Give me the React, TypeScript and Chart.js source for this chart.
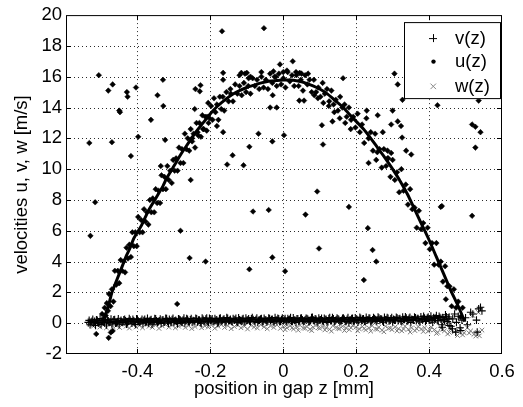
import React, { useEffect, useRef } from "react";
import { Chart, registerables } from "chart.js";

Chart.register(...registerables);

const FONT = "Arial, 'Liberation Sans', Helvetica, sans-serif";
const FS = 18.5;

const xTicks = [-0.4, -0.2, 0, 0.2, 0.4, 0.6];
const yTicks = [-2, 0, 2, 4, 6, 8, 10, 12, 14, 16, 18, 20];
const seriesLabels = ["v(z)", "u(z)", "w(z)"];
const xTitle = "position in gap z [mm]";
const yTitle = "velocities u, v, w [m/s]";

// fitted profile (solid line)
const fitCurve: [number, number][] = [
  [-0.492, 0.3], [-0.48, 1.1], [-0.47, 2.0], [-0.46, 2.6], [-0.45, 3.2], [-0.44, 3.8], [-0.43, 4.4],
  [-0.42, 4.9], [-0.41, 5.5], [-0.4, 5.9], [-0.39, 6.3], [-0.38, 6.8], [-0.37, 7.3], [-0.36, 7.7],
  [-0.35, 8.1], [-0.34, 8.5], [-0.33, 8.9], [-0.32, 9.4], [-0.31, 9.8], [-0.3, 10.2], [-0.28, 11.0],
  [-0.26, 11.7], [-0.24, 12.4], [-0.22, 13.0], [-0.2, 13.6], [-0.18, 14.1], [-0.16, 14.5], [-0.14, 14.85],
  [-0.12, 15.1], [-0.1, 15.3], [-0.08, 15.45], [-0.06, 15.6], [-0.04, 15.7], [-0.02, 15.75], [0, 15.78],
  [0.02, 15.78], [0.04, 15.72], [0.06, 15.6], [0.08, 15.42], [0.1, 15.2], [0.12, 14.9], [0.14, 14.5],
  [0.16, 14.1], [0.18, 13.6], [0.2, 13.1], [0.22, 12.6], [0.24, 12.0], [0.26, 11.35], [0.28, 10.7],
  [0.3, 10.0], [0.32, 9.25], [0.34, 8.4], [0.36, 7.4], [0.38, 6.4], [0.4, 5.4], [0.42, 4.3], [0.44, 3.2],
  [0.46, 2.1], [0.48, 1.1], [0.498, 0.1],
];

// u(z) measured points close to the profile
const uNear: [number, number][] = [
  [-0.497, 0.6], [-0.493, 0.2], [-0.49, 1.0], [-0.487, 0.5], [-0.484, 1.3], [-0.481, 0.8], [-0.478, 1.9],
  [-0.474, 1.1], [-0.47, 2.2], [-0.466, 1.4], [-0.462, 3.4], [-0.458, 2.5], [-0.454, 3.4], [-0.45, 2.6],
  [-0.446, 4.1], [-0.442, 3.4], [-0.438, 4.0], [-0.434, 3.3], [-0.43, 4.9], [-0.426, 4.2], [-0.422, 5.1],
  [-0.418, 4.3], [-0.414, 5.9], [-0.41, 5.0], [-0.406, 5.9], [-0.402, 5.0], [-0.398, 6.9], [-0.394, 5.9],
  [-0.39, 6.7], [-0.386, 5.9], [-0.382, 7.4], [-0.378, 6.6], [-0.374, 7.2], [-0.37, 6.4], [-0.366, 8.0],
  [-0.362, 7.2], [-0.358, 8.1], [-0.354, 7.2], [-0.35, 8.7], [-0.346, 7.8], [-0.342, 8.6], [-0.338, 7.8],
  [-0.334, 9.6], [-0.33, 8.7], [-0.326, 9.5], [-0.322, 8.7], [-0.318, 10.2], [-0.314, 9.3], [-0.31, 9.9],
  [-0.306, 9.1], [-0.302, 10.6], [-0.298, 9.9], [-0.294, 10.7], [-0.29, 9.9], [-0.286, 11.4], [-0.282, 10.4],
  [-0.278, 11.3], [-0.274, 10.4], [-0.27, 12.3], [-0.266, 11.3], [-0.262, 12.0], [-0.258, 11.2], [-0.254, 12.6],
  [-0.25, 11.8], [-0.246, 12.3], [-0.242, 11.4], [-0.238, 13.0], [-0.234, 12.2], [-0.23, 13.0], [-0.226, 12.1],
  [-0.222, 13.5], [-0.218, 12.6], [-0.214, 13.4], [-0.21, 12.5], [-0.206, 14.3], [-0.202, 13.3], [-0.198, 14.1],
  [-0.194, 13.2], [-0.19, 14.6], [-0.186, 13.7], [-0.182, 14.2], [-0.178, 13.2], [-0.174, 14.7], [-0.17, 13.9],
  [-0.166, 14.7], [-0.162, 13.8], [-0.156, 15.0], [-0.15, 14.4], [-0.144, 14.9], [-0.138, 14.4], [-0.132, 15.5],
  [-0.126, 14.9], [-0.12, 15.4], [-0.114, 14.8], [-0.108, 15.6], [-0.102, 15.0], [-0.096, 15.4], [-0.09, 14.9],
  [-0.084, 15.9], [-0.078, 15.4], [-0.072, 15.8], [-0.066, 15.2], [-0.06, 16.0], [-0.054, 15.3], [-0.048, 15.8],
  [-0.042, 15.2], [-0.036, 16.2], [-0.03, 15.6], [-0.024, 16.0], [-0.018, 15.4], [-0.012, 16.2], [-0.006, 15.5],
  [0.0, 15.9], [0.006, 15.3], [0.012, 16.3], [0.018, 15.7], [0.024, 16.1], [0.03, 15.4], [0.036, 16.1],
  [0.042, 15.4], [0.048, 15.8], [0.054, 15.1], [0.06, 16.1], [0.066, 15.5], [0.072, 15.8], [0.078, 15.0],
  [0.084, 15.8], [0.09, 15.0], [0.096, 15.3], [0.102, 14.7], [0.108, 15.6], [0.114, 14.9], [0.12, 15.2],
  [0.126, 14.4], [0.132, 15.1], [0.138, 14.2], [0.144, 14.5], [0.15, 13.8], [0.156, 14.7], [0.162, 14.0],
  [0.168, 14.2], [0.174, 13.4], [0.18, 14.0], [0.186, 13.2], [0.192, 13.4], [0.198, 12.7], [0.204, 13.6],
  [0.21, 12.4], [0.216, 12.9], [0.222, 11.7], [0.228, 13.3], [0.234, 12.0], [0.24, 12.4], [0.246, 11.2],
  [0.252, 12.3], [0.258, 11.1], [0.264, 11.3], [0.27, 10.1], [0.276, 11.3], [0.282, 10.2], [0.288, 10.7],
  [0.294, 9.5], [0.3, 10.6], [0.306, 9.3], [0.312, 9.8], [0.318, 8.5], [0.324, 10.0], [0.33, 8.6],
  [0.336, 9.0], [0.342, 7.7], [0.348, 8.7], [0.354, 7.4], [0.36, 7.5], [0.366, 6.2], [0.372, 7.3],
  [0.378, 6.1], [0.384, 6.5], [0.39, 5.2], [0.396, 6.2], [0.402, 4.8], [0.408, 5.2], [0.414, 3.8],
  [0.42, 5.2], [0.426, 3.8], [0.432, 4.0], [0.438, 2.7], [0.444, 3.7], [0.45, 2.4], [0.456, 2.4],
  [0.462, 1.1], [0.468, 2.2], [0.474, 1.0], [0.48, 1.4], [0.486, 0.4], [0.492, 1.0],
  [0.085, 14.8], [0.095, 14.6], [0.11, 14.3], [0.125, 14.1], [0.14, 13.7], [0.155, 13.3], [0.17, 13.0],
  [0.185, 12.6], [-0.25, 12.0], [-0.235, 12.4], [-0.22, 12.6], [-0.205, 13.0],
  [-0.12, 16.1], [-0.105, 16.2], [-0.09, 16.0], [-0.06, 16.3], [0.0, 16.3], [0.01, 16.4], [0.035, 16.3],
  [0.05, 16.2],
];

// u(z) scattered points away from the profile
const uScatter: [number, number][] = [
  [-0.506, 16.1], [-0.48, 15.1], [-0.468, 15.5], [-0.429, 15.0], [-0.427, 14.7], [-0.404, 15.3],
  [-0.45, 13.8], [-0.448, 13.7], [-0.532, 11.7], [-0.47, 11.75], [-0.418, 10.85], [-0.398, 12.1],
  [-0.363, 13.2], [-0.516, 7.85], [-0.345, 14.8], [-0.33, 15.8], [-0.329, 14.1], [-0.324, 11.9],
  [-0.336, 10.2], [-0.254, 9.3], [-0.241, 15.2], [-0.227, 15.45], [-0.229, 15.05], [-0.243, 13.9],
  [-0.209, 13.4], [-0.168, 18.95], [-0.165, 16.25], [-0.165, 15.8], [-0.145, 15.2], [-0.182, 12.8],
  [-0.165, 12.4], [-0.154, 10.3], [-0.139, 10.9], [-0.109, 10.25], [-0.093, 11.45], [-0.115, 16.25],
  [-0.1, 16.25], [-0.095, 15.9], [-0.068, 12.3], [-0.053, 19.15], [-0.027, 16.35], [-0.02, 16.0],
  [-0.009, 16.8], [0.026, 17.0], [0.045, 16.25], [0.068, 16.2], [-0.036, 14.0], [-0.018, 14.0],
  [-0.029, 14.8], [0.044, 14.45], [0.057, 14.45], [-0.03, 11.8], [0.002, 12.2], [0.106, 12.85],
  [0.135, 13.1], [0.109, 11.6], [0.164, 15.9], [0.093, 8.55], [-0.04, 7.35], [0.18, 7.55],
  [0.229, 13.8], [0.259, 13.5], [0.3, 13.8], [0.296, 12.9], [0.314, 13.1], [0.323, 12.8],
  [0.273, 12.4], [0.234, 10.4], [0.255, 10.6], [0.286, 11.2], [0.296, 11.05], [0.286, 10.7],
  [0.326, 12.05], [0.337, 11.2], [0.351, 10.95], [0.305, 16.2], [0.314, 15.5], [0.327, 14.5],
  [0.423, 14.15], [0.518, 12.9], [0.527, 12.75], [0.541, 12.4], [0.527, 11.4], [0.432, 7.55],
  [0.536, 14.45], [0.061, 7.05], [-0.03, 4.27], [0.005, 3.37], [0.098, 4.85], [0.232, 6.17],
  [0.245, 4.75], [0.255, 4.0], [0.221, 2.8], [0.435, 7.6], [0.518, 6.97], [0.446, 1.55],
  [-0.529, 5.67], [-0.282, 6.0], [-0.257, 4.23], [-0.213, 4.0], [-0.291, 1.25], [-0.093, 3.5],
  [-0.083, 7.25], [-0.513, -0.7], [-0.479, -0.95], [-0.473, -0.6], [-0.468, -0.5],
];

// v(z) points
const vPoints: [number, number][] = [
  [-0.535, 0.05], [-0.53, -0.1], [-0.525, 0.12], [-0.52, 0.0], [-0.515, -0.15], [-0.51, 0.18], [-0.505, 0.05],
  [-0.5, -0.08], [-0.495, 0.2], [-0.49, 0.02], [-0.485, -0.12], [-0.48, 0.15], [-0.475, 0.07], [-0.47, -0.05],
  [-0.465, 0.22], [-0.46, 0.0], [-0.455, 0.1], [-0.45, -0.1], [-0.445, 0.18], [-0.44, 0.05], [-0.435, 0.25],
  [-0.43, -0.06], [-0.425, 0.12], [-0.42, 0.2], [-0.415, 0.0], [-0.41, 0.15], [-0.405, -0.08], [-0.4, 0.22],
  [-0.395, 0.06], [-0.39, 0.14], [-0.385, -0.04], [-0.38, 0.25], [-0.375, 0.1], [-0.37, 0.02], [-0.365, 0.18],
  [-0.36, -0.06], [-0.355, 0.12], [-0.35, 0.28], [-0.345, 0.04], [-0.34, 0.16], [-0.335, -0.02], [-0.33, 0.22],
  [-0.325, 0.08], [-0.32, 0.3], [-0.315, 0.0], [-0.31, 0.14], [-0.305, 0.24], [-0.3, 0.06], [-0.295, 0.18],
  [-0.29, -0.03], [-0.285, 0.26], [-0.28, 0.1], [-0.275, 0.2], [-0.27, 0.02], [-0.265, 0.3], [-0.26, 0.12],
  [-0.255, 0.22], [-0.25, 0.05], [-0.245, 0.16], [-0.24, 0.32], [-0.235, 0.08], [-0.23, 0.2], [-0.225, 0.0],
  [-0.22, 0.26], [-0.215, 0.12], [-0.21, 0.34], [-0.205, 0.06], [-0.2, 0.2], [-0.195, 0.28], [-0.19, 0.1],
  [-0.185, 0.18], [-0.18, 0.02], [-0.175, 0.3], [-0.17, 0.14], [-0.165, 0.24], [-0.16, 0.06], [-0.155, 0.36],
  [-0.15, 0.16], [-0.145, 0.26], [-0.14, 0.08], [-0.135, 0.2], [-0.13, 0.32], [-0.125, 0.04], [-0.12, 0.22],
  [-0.115, 0.12], [-0.11, 0.3], [-0.105, 0.08], [-0.1, 0.18], [-0.095, 0.28], [-0.09, 0.1], [-0.085, 0.36],
  [-0.08, 0.14], [-0.075, 0.24], [-0.07, 0.04], [-0.065, 0.2], [-0.06, 0.3], [-0.055, 0.12], [-0.05, 0.22],
  [-0.045, 0.06], [-0.04, 0.34], [-0.035, 0.16], [-0.03, 0.26], [-0.025, 0.08], [-0.02, 0.2], [-0.015, 0.32],
  [-0.01, 0.1], [-0.005, 0.24], [0.0, 0.14], [0.005, 0.3], [0.01, 0.06], [0.015, 0.22], [0.02, 0.36],
  [0.025, 0.12], [0.03, 0.2], [0.035, 0.04], [0.04, 0.28], [0.045, 0.16], [0.05, 0.34], [0.055, 0.1],
  [0.06, 0.22], [0.065, 0.3], [0.07, 0.08], [0.075, 0.18], [0.08, 0.38], [0.085, 0.14], [0.09, 0.26],
  [0.095, 0.06], [0.1, 0.2], [0.105, 0.32], [0.11, 0.12], [0.115, 0.24], [0.12, 0.04], [0.125, 0.3],
  [0.13, 0.16], [0.135, 0.36], [0.14, 0.1], [0.145, 0.22], [0.15, 0.28], [0.155, 0.08], [0.16, 0.18],
  [0.165, 0.34], [0.17, 0.12], [0.175, 0.26], [0.18, 0.02], [0.185, 0.2], [0.19, 0.32], [0.195, 0.14],
  [0.2, 0.24], [0.205, 0.06], [0.21, 0.38], [0.215, 0.16], [0.22, 0.28], [0.225, 0.1], [0.23, 0.2],
  [0.235, 0.34], [0.24, 0.08], [0.245, 0.22], [0.25, 0.3], [0.255, 0.12], [0.26, 0.4], [0.265, 0.18],
  [0.27, 0.26], [0.275, 0.06], [0.28, 0.22], [0.285, 0.36], [0.29, 0.14], [0.295, 0.28], [0.3, 0.08],
  [0.305, 0.2], [0.31, 0.38], [0.315, 0.16], [0.32, 0.3], [0.325, 0.1], [0.33, 0.24], [0.335, 0.42],
  [0.34, 0.14], [0.345, 0.32], [0.35, 0.04], [0.355, 0.22], [0.36, 0.4], [0.365, 0.18], [0.37, 0.3],
  [0.375, 0.08], [0.38, 0.26], [0.385, 0.44], [0.39, 0.12], [0.395, 0.34], [0.4, 0.2], [0.405, 0.46],
  [0.41, 0.06], [0.415, 0.3], [0.42, 0.5], [0.425, 0.16], [0.43, 0.36], [0.435, -0.1], [0.44, 0.24],
  [0.445, 0.55], [0.45, 0.1], [0.455, 0.4], [0.46, -0.2], [0.465, 0.28], [0.47, 0.6], [0.475, 0.05],
  [0.48, 0.45], [0.485, -0.3], [0.49, 0.2],
  [0.464, -0.36], [0.473, -0.58], [0.487, -0.47], [0.5, 0.35], [0.505, -0.1], [0.514, 0.71], [0.52, 0.6],
  [0.53, 0.2], [0.532, -0.58], [0.536, 0.93], [0.541, 1.03], [0.545, 0.8], [0.436, -0.26], [0.455, -0.15],
  // second, interleaved row of the dense band
  [-0.5325, 0.18], [-0.5275, 0.05], [-0.5225, 0.26], [-0.5175, 0.12], [-0.5125, 0.22], [-0.5075, 0.0],
  [-0.5025, 0.3], [-0.4975, 0.15], [-0.4925, 0.08], [-0.4875, 0.25], [-0.4825, 0.2], [-0.4775, 0.04],
  [-0.4725, 0.27], [-0.4675, 0.1], [-0.4625, 0.24], [-0.4575, 0.02], [-0.4525, 0.29], [-0.4475, 0.13],
  [-0.4425, 0.07], [-0.4375, 0.22], [-0.4325, 0.16], [-0.4275, 0.03], [-0.4225, 0.3], [-0.4175, 0.11],
  [-0.4125, 0.25], [-0.4075, 0.06], [-0.4025, 0.28], [-0.3975, 0.14], [-0.3925, 0.09], [-0.3875, 0.26],
  [-0.3825, 0.17], [-0.3775, 0.04], [-0.3725, 0.31], [-0.3675, 0.12], [-0.3625, 0.23], [-0.3575, 0.05],
  [-0.3525, 0.3], [-0.3475, 0.15], [-0.3425, 0.1], [-0.3375, 0.27], [-0.3325, 0.19], [-0.3275, 0.06],
  [-0.3225, 0.32], [-0.3175, 0.13], [-0.3125, 0.25], [-0.3075, 0.07], [-0.3025, 0.31], [-0.2975, 0.16],
  [-0.2925, 0.11], [-0.2875, 0.28], [-0.2825, 0.2], [-0.2775, 0.05], [-0.2725, 0.33], [-0.2675, 0.14],
  [-0.2625, 0.26], [-0.2575, 0.08], [-0.2525, 0.3], [-0.2475, 0.17], [-0.2425, 0.12], [-0.2375, 0.29],
  [-0.2325, 0.21], [-0.2275, 0.07], [-0.2225, 0.33], [-0.2175, 0.15], [-0.2125, 0.27], [-0.2075, 0.09],
  [-0.2025, 0.32], [-0.1975, 0.18], [-0.1925, 0.12], [-0.1875, 0.3], [-0.1825, 0.22], [-0.1775, 0.08],
  [-0.1725, 0.34], [-0.1675, 0.16], [-0.1625, 0.27], [-0.1575, 0.1], [-0.1525, 0.31], [-0.1475, 0.19],
  [-0.1425, 0.13], [-0.1375, 0.3], [-0.1325, 0.23], [-0.1275, 0.09], [-0.1225, 0.35], [-0.1175, 0.17],
  [-0.1125, 0.26], [-0.1075, 0.11], [-0.1025, 0.33], [-0.0975, 0.2], [-0.0925, 0.14], [-0.0875, 0.29],
  [-0.0825, 0.24], [-0.0775, 0.1], [-0.0725, 0.34], [-0.0675, 0.18], [-0.0625, 0.27], [-0.0575, 0.12],
  [-0.0525, 0.32], [-0.0475, 0.2], [-0.0425, 0.14], [-0.0375, 0.3], [-0.0325, 0.24], [-0.0275, 0.1],
  [-0.0225, 0.36], [-0.0175, 0.18], [-0.0125, 0.28], [-0.0075, 0.12], [-0.0025, 0.33], [0.0025, 0.21],
  [0.0075, 0.15], [0.0125, 0.3], [0.0175, 0.25], [0.0225, 0.11], [0.0275, 0.35], [0.0325, 0.19],
  [0.0375, 0.28], [0.0425, 0.13], [0.0475, 0.32], [0.0525, 0.22], [0.0575, 0.15], [0.0625, 0.31],
  [0.0675, 0.25], [0.0725, 0.11], [0.0775, 0.36], [0.0825, 0.2], [0.0875, 0.29], [0.0925, 0.14],
  [0.0975, 0.33], [0.1025, 0.22], [0.1075, 0.16], [0.1125, 0.31], [0.1175, 0.26], [0.1225, 0.12],
  [0.1275, 0.37], [0.1325, 0.2], [0.1375, 0.29], [0.1425, 0.14], [0.1475, 0.34], [0.1525, 0.23],
  [0.1575, 0.16], [0.1625, 0.32], [0.1675, 0.26], [0.1725, 0.12], [0.1775, 0.37], [0.1825, 0.21],
  [0.1875, 0.3], [0.1925, 0.15], [0.1975, 0.35], [0.2025, 0.23], [0.2075, 0.17], [0.2125, 0.32],
  [0.2175, 0.27], [0.2225, 0.13], [0.2275, 0.38], [0.2325, 0.22], [0.2375, 0.31], [0.2425, 0.16],
  [0.2475, 0.36], [0.2525, 0.24], [0.2575, 0.18], [0.2625, 0.33], [0.2675, 0.28], [0.2725, 0.14],
  [0.2775, 0.39], [0.2825, 0.23], [0.2875, 0.32], [0.2925, 0.17], [0.2975, 0.37], [0.3025, 0.25],
  [0.3075, 0.19], [0.3125, 0.34], [0.3175, 0.29], [0.3225, 0.15], [0.3275, 0.4], [0.3325, 0.24],
  [0.3375, 0.33], [0.3425, 0.18], [0.3475, 0.38], [0.3525, 0.26], [0.3575, 0.2], [0.3625, 0.35],
  [0.3675, 0.3], [0.3725, 0.16], [0.3775, 0.42], [0.3825, 0.25], [0.3875, 0.34], [0.3925, 0.19],
  [0.3975, 0.4], [0.4025, 0.27], [0.4075, 0.21], [0.4125, 0.37], [0.4175, 0.31], [0.4225, 0.17],
  [0.4275, 0.44], [0.4325, 0.26], [0.4375, 0.36], [0.4425, 0.2], [0.4475, 0.42], [0.4525, 0.28],
];

// w(z) points
const wPoints: [number, number][] = [
  [-0.53, -0.1], [-0.521, -0.2], [-0.512, -0.05], [-0.503, -0.25], [-0.494, -0.12], [-0.485, -0.3],
  [-0.476, -0.08], [-0.467, -0.22], [-0.458, -0.15], [-0.449, -0.28], [-0.44, -0.05], [-0.431, -0.2],
  [-0.422, -0.32], [-0.413, -0.1], [-0.404, -0.24], [-0.395, -0.15], [-0.386, -0.3], [-0.377, -0.06],
  [-0.368, -0.2], [-0.359, -0.27], [-0.35, -0.12], [-0.341, -0.34], [-0.332, -0.18], [-0.323, -0.08],
  [-0.314, -0.26], [-0.305, -0.14], [-0.296, -0.3], [-0.287, -0.2], [-0.278, -0.1], [-0.269, -0.28],
  [-0.26, -0.16], [-0.251, -0.35], [-0.242, -0.22], [-0.233, -0.08], [-0.224, -0.3], [-0.215, -0.18],
  [-0.206, -0.26], [-0.197, -0.12], [-0.188, -0.33], [-0.179, -0.2], [-0.17, -0.1], [-0.161, -0.28],
  [-0.152, -0.16], [-0.143, -0.36], [-0.134, -0.22], [-0.125, -0.12], [-0.116, -0.3], [-0.107, -0.2],
  [-0.098, -0.38], [-0.089, -0.14], [-0.08, -0.26], [-0.071, -0.32], [-0.062, -0.1], [-0.053, -0.24],
  [-0.044, -0.36], [-0.035, -0.18], [-0.026, -0.28], [-0.017, -0.12], [-0.008, -0.34], [0.001, -0.22],
  [0.01, -0.3], [0.019, -0.16], [0.028, -0.38], [0.037, -0.24], [0.046, -0.14], [0.055, -0.32],
  [0.064, -0.2], [0.073, -0.4], [0.082, -0.26], [0.091, -0.12], [0.1, -0.34], [0.109, -0.22],
  [0.118, -0.3], [0.127, -0.4], [0.136, -0.16], [0.145, -0.28], [0.154, -0.36], [0.163, -0.2],
  [0.172, -0.3], [0.181, -0.42], [0.19, -0.14], [0.199, -0.26], [0.208, -0.36], [0.217, -0.22],
  [0.226, -0.44], [0.235, -0.3], [0.244, -0.16], [0.253, -0.38], [0.262, -0.26], [0.271, -0.46],
  [0.28, -0.2], [0.289, -0.34], [0.298, -0.42], [0.307, -0.24], [0.316, -0.36], [0.325, -0.5],
  [0.334, -0.2], [0.343, -0.4], [0.352, -0.3], [0.361, -0.48], [0.37, -0.22], [0.379, -0.38],
  [0.388, -0.3], [0.397, -0.52], [0.406, -0.26], [0.415, -0.42], [0.424, -0.6], [0.433, -0.3],
  [0.442, -0.5], [0.451, -0.7], [0.46, -0.38], [0.469, -0.56], [0.478, -0.8], [0.487, -0.44],
  [0.496, -0.62], [0.505, -0.3], [0.514, -0.5], [0.523, -0.72], [0.532, -0.6], [0.538, -0.82],
  [0.545, -0.45], [0.52, 0.5], [0.535, 0.7],
  [0.005, -0.42], [0.024, -0.3], [0.041, -0.46], [0.06, -0.34], [0.078, -0.48], [0.096, -0.3],
  [0.114, -0.44], [0.132, -0.52], [0.15, -0.34], [0.168, -0.48], [0.186, -0.3], [0.204, -0.5],
  [0.222, -0.34], [0.24, -0.52], [0.258, -0.4], [0.276, -0.56], [0.294, -0.32], [0.312, -0.5],
  [0.33, -0.38], [0.348, -0.58], [0.366, -0.36], [0.384, -0.54], [0.402, -0.44], [0.42, -0.66],
  [0.438, -0.4], [0.456, -0.6], [0.474, -0.5], [0.492, -0.76], [0.51, -0.64], [0.528, -0.84],
];

const toXY = (arr: [number, number][]) => arr.map(([x, y]) => ({ x, y }));
const fmt = (v: number) => String(Math.round(v * 10) / 10);

const framePlugin = {
  id: "matlabFrame",
  beforeDatasetsDraw(chart: any) {
    const { ctx, chartArea, scales } = chart;
    const { left, right, top, bottom } = chartArea;
    ctx.save();
    ctx.strokeStyle = "#2a2a2a";
    ctx.lineWidth = 1;
    ctx.setLineDash([1, 3]);
    for (const t of xTicks) {
      const px = Math.round(scales.x.getPixelForValue(t)) + 0.5;
      if (px <= left + 1.5 || px >= right - 1.5) continue;
      ctx.beginPath();
      ctx.moveTo(px, top);
      ctx.lineTo(px, bottom);
      ctx.stroke();
    }
    for (const t of yTicks) {
      const py = Math.round(scales.y.getPixelForValue(t)) + 0.5;
      if (py <= top + 1.5 || py >= bottom - 1.5) continue;
      ctx.beginPath();
      ctx.moveTo(left, py);
      ctx.lineTo(right, py);
      ctx.stroke();
    }
    ctx.restore();
  },
  afterDatasetsDraw(chart: any) {
    const { ctx, chartArea, scales } = chart;
    const { left, right, top, bottom } = chartArea;
    const L = 5;
    ctx.save();
    ctx.setLineDash([]);
    ctx.strokeStyle = "#000";
    ctx.lineWidth = 1;
    ctx.strokeRect(left + 0.5, top + 0.5, right - left - 1, bottom - top - 1);
    ctx.beginPath();
    for (const t of xTicks) {
      const px = Math.round(scales.x.getPixelForValue(t)) + 0.5;
      if (px <= left + 1.5 || px >= right - 1.5) continue;
      ctx.moveTo(px, bottom);
      ctx.lineTo(px, bottom - L);
      ctx.moveTo(px, top);
      ctx.lineTo(px, top + L);
    }
    for (const t of yTicks) {
      const py = Math.round(scales.y.getPixelForValue(t)) + 0.5;
      if (py <= top + 1.5 || py >= bottom - 1.5) continue;
      ctx.moveTo(left, py);
      ctx.lineTo(left + L, py);
      ctx.moveTo(right, py);
      ctx.lineTo(right - L, py);
    }
    ctx.stroke();

    // legend box
    const bx = right - 98;
    const by = top + 7;
    const bw = 97;
    const bh = 77;
    ctx.fillStyle = "#fff";
    ctx.fillRect(bx, by, bw, bh);
    ctx.strokeStyle = "#000";
    ctx.strokeRect(bx + 0.5, by + 0.5, bw - 1, bh - 1);
    const rows = [by + 16, by + 39, by + 64];
    const mx = bx + 29;
    ctx.font = `${FS}px ${FONT}`;
    ctx.textBaseline = "middle";
    ctx.textAlign = "left";
    seriesLabels.forEach((label, i) => {
      const ry = rows[i];
      if (i === 0) {
        ctx.strokeStyle = "#000";
        ctx.beginPath();
        ctx.moveTo(mx - 4, ry + 0.5);
        ctx.lineTo(mx + 4, ry + 0.5);
        ctx.moveTo(mx + 0.5, ry - 4);
        ctx.lineTo(mx + 0.5, ry + 4);
        ctx.stroke();
      } else if (i === 1) {
        ctx.fillStyle = "#000";
        ctx.beginPath();
        ctx.arc(mx + 0.5, ry + 0.5, 2.2, 0, Math.PI * 2);
        ctx.fill();
      } else {
        ctx.strokeStyle = "#888";
        ctx.beginPath();
        ctx.moveTo(mx - 2.5, ry - 2.5);
        ctx.lineTo(mx + 3, ry + 3);
        ctx.moveTo(mx + 3, ry - 2.5);
        ctx.lineTo(mx - 2.5, ry + 3);
        ctx.stroke();
      }
      ctx.fillStyle = "#000";
      ctx.fillText(label, bx + 51, ry + 1);
    });
    ctx.restore();
  },
};

export default function App() {
  const canvasRef = useRef<HTMLCanvasElement | null>(null);

  useEffect(() => {
    const canvas = canvasRef.current;
    if (!canvas) return;
    const tickFont = { family: FONT, size: FS };
    const chart = new Chart(canvas, {
      type: "scatter",
      data: {
        datasets: [
          {
            label: "fit",
            type: "line",
            data: toXY(fitCurve),
            borderColor: "#000",
            borderWidth: 3,
            pointRadius: 0,
            showLine: true,
            fill: false,
            cubicInterpolationMode: "monotone",
            order: 0,
          } as any,
          {
            label: seriesLabels[0],
            data: toXY(vPoints),
            pointStyle: "cross",
            pointRadius: 3.8,
            borderColor: "#000",
            backgroundColor: "#000",
            borderWidth: 1.1,
            order: 2,
          },
          {
            label: seriesLabels[1],
            data: toXY([...uNear, ...uScatter]),
            pointStyle: "rectRot",
            pointRadius: 2.8,
            borderColor: "#000",
            backgroundColor: "#000",
            borderWidth: 0.5,
            order: 1,
          },
          {
            label: seriesLabels[2],
            data: toXY(wPoints),
            pointStyle: "crossRot",
            pointRadius: 3.2,
            borderColor: "#7a7a7a",
            backgroundColor: "#7a7a7a",
            borderWidth: 1,
            order: 3,
          },
        ],
      },
      options: {
        animation: false,
        responsive: true,
        maintainAspectRatio: false,
        events: [],
        layout: { padding: { top: 14, right: 21, left: 0, bottom: 0 } },
        plugins: { legend: { display: false }, tooltip: { enabled: false } },
        scales: {
          x: {
            type: "linear",
            min: -0.596,
            max: 0.6,
            afterBuildTicks: (s: any) => {
              s.ticks = xTicks.map((v) => ({ value: v }));
            },
            afterFit: (s: any) => {
              s.height = 53;
            },
            grid: { display: false, drawTicks: false },
            border: { display: false },
            ticks: {
              font: tickFont,
              color: "#000",
              padding: 6.5,
              maxRotation: 0,
              autoSkip: false,
              callback: (v: any) => fmt(Number(v)),
            },
            title: {
              display: true,
              text: xTitle,
              font: tickFont,
              color: "#000",
              padding: { top: 0, bottom: 7 },
            },
          },
          y: {
            type: "linear",
            min: -2,
            max: 20,
            afterBuildTicks: (s: any) => {
              s.ticks = yTicks.map((v) => ({ value: v }));
            },
            afterFit: (s: any) => {
              s.width = 66;
            },
            grid: { display: false, drawTicks: false },
            border: { display: false },
            ticks: {
              font: tickFont,
              color: "#000",
              padding: 4,
              autoSkip: false,
              callback: (v: any) => fmt(Number(v)),
            },
            title: {
              display: true,
              text: yTitle,
              font: tickFont,
              color: "#000",
              padding: { top: 10.5, bottom: 0 },
            },
          },
        },
      },
      plugins: [framePlugin],
    });
    return () => chart.destroy();
  }, []);

  return (
    <div style={{ position: "fixed", left: 0, top: 0, width: 523, height: 407, background: "#fff" }}>
      <canvas ref={canvasRef} />
    </div>
  );
}
